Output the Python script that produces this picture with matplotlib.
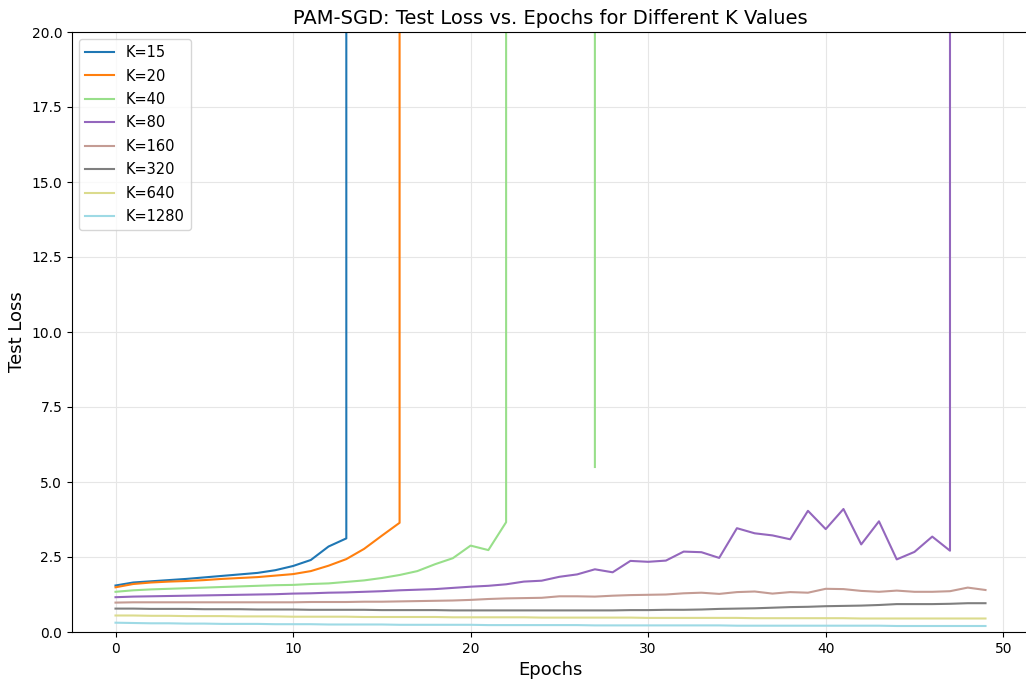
import matplotlib
matplotlib.use('Agg')
import matplotlib.pyplot as plt
import numpy as np

# test loss per epoch for each K (diverged runs blow up to huge values)
k_values = [15, 20, 40, 80, 160, 320, 640, 1280]

loss_k15 = [1.55, 1.65, 1.69, 1.73, 1.77, 1.82, 1.87, 1.92, 1.97, 2.06,
            2.20, 2.40, 2.85, 3.12, 4.2e6]
loss_k20 = [1.49, 1.60, 1.65, 1.68, 1.70, 1.73, 1.77, 1.80, 1.83, 1.88,
            1.93, 2.03, 2.21, 2.43, 2.77, 3.21, 3.64, 2.7e6]
loss_k40 = [1.34, 1.39, 1.42, 1.44, 1.46, 1.48, 1.50, 1.52, 1.54, 1.56,
            1.57, 1.60, 1.62, 1.67, 1.72, 1.80, 1.90, 2.03, 2.26, 2.46,
            2.88, 2.73, 3.66, 8.1e5, 3.4e5, 5.6e5, 9.2e5, 5.50]
loss_k80 = [1.16, 1.18, 1.19, 1.20, 1.21, 1.22, 1.23, 1.24, 1.25, 1.26,
            1.28, 1.29, 1.31, 1.32, 1.34, 1.36, 1.39, 1.41, 1.43, 1.47,
            1.51, 1.54, 1.59, 1.68, 1.71, 1.84, 1.92, 2.09, 1.99, 2.37,
            2.34, 2.38, 2.68, 2.66, 2.47, 3.46, 3.29, 3.22, 3.09, 4.04,
            3.43, 4.10, 2.92, 3.69, 2.42, 2.67, 3.18, 2.71, 1.9e6]
loss_k160 = [0.98, 0.99, 0.99, 0.99, 0.99, 0.99, 0.99, 0.99, 0.99, 0.99,
             0.99, 1.00, 1.00, 1.00, 1.01, 1.01, 1.02, 1.03, 1.04, 1.05,
             1.07, 1.10, 1.12, 1.13, 1.14, 1.19, 1.19, 1.18, 1.21, 1.23,
             1.24, 1.25, 1.29, 1.31, 1.27, 1.33, 1.35, 1.28, 1.33, 1.31,
             1.44, 1.43, 1.37, 1.34, 1.38, 1.34, 1.34, 1.36, 1.48, 1.40]
loss_k320 = [0.78, 0.78, 0.77, 0.77, 0.77, 0.76, 0.76, 0.76, 0.75, 0.75,
             0.75, 0.74, 0.74, 0.74, 0.74, 0.73, 0.73, 0.73, 0.73, 0.72,
             0.72, 0.72, 0.72, 0.72, 0.72, 0.72, 0.72, 0.72, 0.72, 0.73,
             0.73, 0.74, 0.74, 0.75, 0.77, 0.78, 0.79, 0.81, 0.83, 0.84,
             0.86, 0.87, 0.88, 0.90, 0.93, 0.93, 0.93, 0.94, 0.96, 0.96]
loss_k640 = [0.55, 0.55, 0.54, 0.54, 0.53, 0.53, 0.53, 0.52, 0.52, 0.52,
             0.51, 0.51, 0.51, 0.51, 0.50, 0.50, 0.50, 0.50, 0.50, 0.49,
             0.49, 0.49, 0.49, 0.49, 0.48, 0.48, 0.48, 0.48, 0.48, 0.48,
             0.47, 0.47, 0.47, 0.47, 0.47, 0.47, 0.46, 0.46, 0.46, 0.46,
             0.46, 0.46, 0.45, 0.45, 0.45, 0.45, 0.45, 0.45, 0.45, 0.45]
loss_k1280 = [0.31, 0.30, 0.29, 0.29, 0.28, 0.28, 0.27, 0.27, 0.27, 0.26,
              0.26, 0.26, 0.25, 0.25, 0.25, 0.25, 0.24, 0.24, 0.24, 0.24,
              0.24, 0.23, 0.23, 0.23, 0.23, 0.23, 0.23, 0.22, 0.22, 0.22,
              0.22, 0.22, 0.22, 0.22, 0.22, 0.21, 0.21, 0.21, 0.21, 0.21,
              0.21, 0.21, 0.21, 0.21, 0.20, 0.20, 0.20, 0.20, 0.20, 0.20]

all_losses = [loss_k15, loss_k20, loss_k40, loss_k80,
              loss_k160, loss_k320, loss_k640, loss_k1280]

colors = plt.cm.tab20(np.linspace(0, 1, len(k_values)))

fig = plt.figure(figsize=(10.26, 6.81), dpi=100)
ax = fig.add_axes([72 / 1026, 49 / 681, 957 / 1026, 600 / 681])

for k, losses, c in zip(k_values, all_losses, colors):
    ax.plot(range(len(losses)), losses, color=c, linewidth=1.5, label=f'K={k}')

ax.set_xlim(-2.45, 51.45)
ax.set_ylim(0, 20)
ax.set_title('PAM-SGD: Test Loss vs. Epochs for Different K Values', fontsize=14)
ax.set_xlabel('Epochs', fontsize=13)
ax.set_ylabel('Test Loss', fontsize=13)
ax.grid(True, color='#e6e6e6', linewidth=0.8)
ax.legend(loc='upper left', fontsize=10.5, labelspacing=0.58)

plt.savefig('out.png')
plt.close()
